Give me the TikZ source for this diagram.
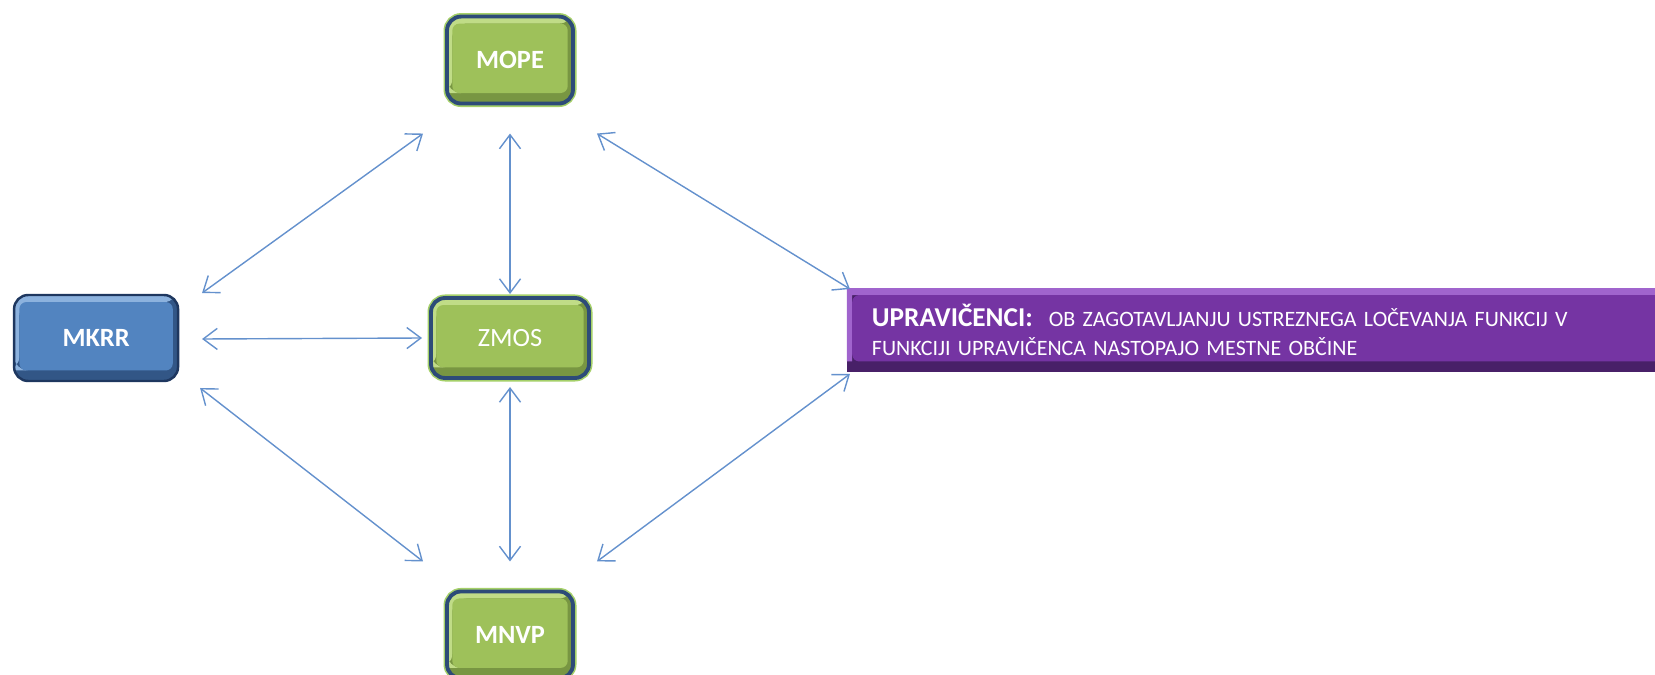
\documentclass[tikz,border=0pt]{standalone}
\usepackage{fontspec}
\setmainfont{Carlito}
\usepackage{tikz}
\usetikzlibrary{arrows.meta, positioning, calc}
\definecolor{grnmain}{RGB}{158,193,90}
\definecolor{grnlight}{RGB}{192,220,135}
\definecolor{grndark}{RGB}{120,150,66}
\definecolor{grnglow}{RGB}{165,208,105}
\definecolor{ringblue}{RGB}{45,75,120}
\definecolor{blumain}{RGB}{82,132,192}
\definecolor{blulight}{RGB}{140,178,222}
\definecolor{bludark}{RGB}{50,86,134}
\definecolor{bluedge}{RGB}{30,55,95}
\definecolor{banmain}{RGB}{117,52,163}
\definecolor{banlight}{RGB}{160,100,205}
\definecolor{bandark}{RGB}{72,32,104}
\definecolor{linkblue}{RGB}{100,145,205}

\begin{document}
\begin{tikzpicture}[
    x=0.02cm, y=-0.02cm,
    >={Straight Barb[length=8pt, width=12pt]},
    link/.style={<->, line width=0.8pt, linkblue},
    bevel/.style n args={3}{fill=#1,
        path picture={
            \fill[#3] (path picture bounding box.south west) rectangle (path picture bounding box.north east);
            \fill[#2] ([yshift=6pt]path picture bounding box.south west) -- (path picture bounding box.north west)
                -- (path picture bounding box.north east) -- ([yshift=-4pt]path picture bounding box.north east)
                -- ([shift={(3pt,-4pt)}]path picture bounding box.north west) -- ([shift={(3pt,6pt)}]path picture bounding box.south west) -- cycle;
            \fill[#1, rounded corners=4pt] ([shift={(3pt,6pt)}]path picture bounding box.south west) rectangle ([shift={(-3pt,-4pt)}]path picture bounding box.north east);
        }},
    grn/.style={draw=ringblue, line width=2.2pt, rounded corners=8pt, bevel={grnmain}{grnlight}{grndark},
        preaction={draw=grnglow, line width=4pt}, minimum width=2.52cm, minimum height=1.74cm,
        inner sep=0pt, outer sep=0pt, text=white, font=\fontsize{15}{18}\selectfont\bfseries},
    blu/.style={draw=bluedge, line width=1.4pt, rounded corners=8pt, bevel={blumain}{blulight}{bludark},
        minimum width=3.28cm, minimum height=1.72cm,
        inner sep=0pt, outer sep=0pt, text=white, font=\fontsize{15}{18}\selectfont\bfseries},
    ban/.style={bevel={banmain}{banlight}{bandark}, minimum width=16.66cm, minimum height=1.68cm,
        text width=15.66cm, inner xsep=0.5cm, inner ysep=0pt, outer sep=0pt, align=left,
        text=white, font=\fontsize{12.5}{16.5}\selectfont},
]
    \useasboundingbox (0,0) rectangle (1655,675);
    \node[grn, minimum width=3.16cm, minimum height=1.6cm, font=\fontsize{15}{18}\selectfont] (zmos) at (510,338) {ZMOS};
    \node[grn, above=3.89cm of zmos] (mope) {MOPE};
    \node[grn, below=4.27cm of zmos] (mnvp) {MNVP};
    \node[blu, left=5.06cm of zmos] (mkrr) {MKRR};
    \node[ban, right=5.16cm of zmos, yshift=0.16cm] (upr) {{\fontsize{15.5}{16.5}\selectfont\bfseries UPRAVIČENCI:}\hspace{0.4em} OB ZAGOTAVLJANJU USTREZNEGA LOČEVANJA FUNKCIJ V\\FUNKCIJI UPRAVIČENCA NASTOPAJO MESTNE OBČINE};
    \draw[link] ($(mkrr.north east)+(24,-2)$) -- ($(mope.south west)+(-24,30)$);
    \draw[link] ($(mope.south east)+(24,30)$) -- ($(upr.north west)+(3,1)$);
    \draw[link] ($(mope.south)+(0,30)$) -- ($(zmos.north)+(0,-4)$);
    \draw[link] ($(mkrr.east)+(24,1)$) -- ($(zmos.west)+(-9,0)$);
    \draw[link] ($(mkrr.south east)+(22,7)$) -- ($(mnvp.north west)+(-24,-30)$);
    \draw[link] ($(zmos.south)+(0,9)$) -- ($(mnvp.north)+(0,-30)$);
    \draw[link] ($(mnvp.north east)+(24,-30)$) -- ($(upr.south west)+(3,2)$);
\end{tikzpicture}
\end{document}
